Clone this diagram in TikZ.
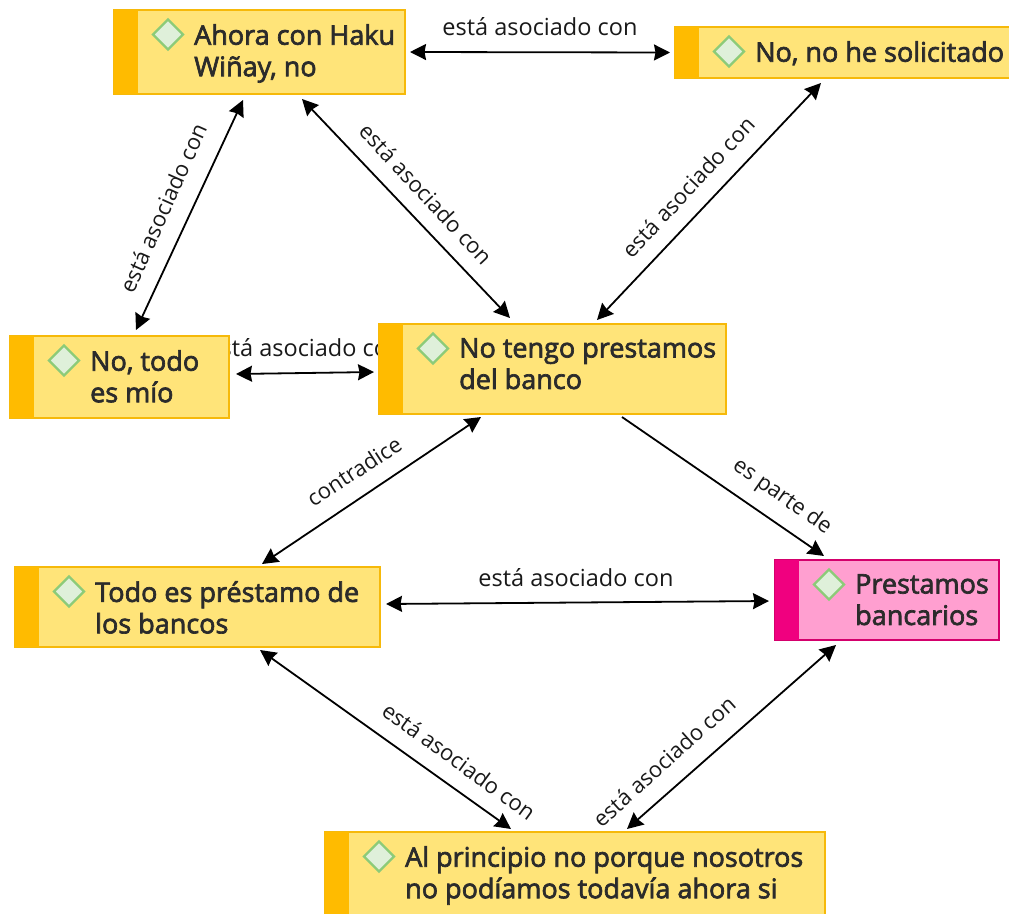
\documentclass[tikz,border=0pt]{standalone}
\usepackage{fontspec}
\setmainfont{Open Sans}
\newfontfamily\boldish[FakeBold=2.5]{Open Sans}
\usetikzlibrary{arrows.meta,shapes.geometric}
\definecolor{yfillc}{HTML}{FFE479}
\definecolor{yedgec}{HTML}{F6B90A}
\definecolor{ybarc}{HTML}{FFBB00}
\definecolor{pfillc}{HTML}{FF9FD0}
\definecolor{pedgec}{HTML}{D4006C}
\definecolor{pbarc}{HTML}{F0007F}
\definecolor{inkc}{HTML}{2B2B2B}
\definecolor{dfillc}{HTML}{DFF0DA}
\definecolor{dedgec}{HTML}{8CCB78}
\tikzset{
 x=1pt,y=-1pt,
 boxy/.style={draw=yedgec,fill=yfillc,line width=1.5pt,anchor=north west,inner sep=0pt,outer sep=0pt},
 boxp/.style={draw=pedgec,fill=pfillc,line width=1.5pt,anchor=north west,inner sep=0pt,outer sep=0pt},
 dia/.style={diamond,draw=dedgec,fill=dfillc,line width=2.4pt,minimum width=31pt,minimum height=31pt,inner sep=0pt},
 txt/.style={anchor=north west,align=left,inner sep=0pt,text=inkc,font=\boldish\fontsize{27}{31.5}\selectfont},
 lab/.style={inner sep=0pt,text=black!90,font=\fontsize{23.5}{27}\selectfont},
 rlab/.style={inner sep=0pt,text=black!90,font=\fontsize{22}{26}\selectfont},
 both/.style={line width=1.8pt,{Stealth[length=16pt,width=16pt,inset=1.5pt]}-{Stealth[length=16pt,width=16pt,inset=1.5pt]}},
 one/.style={line width=1.8pt,-{Stealth[length=16pt,width=16pt,inset=1.5pt]}},
}
\newcommand{\cbox}[8]{% name, style, barcolor, x, y, w, h, text
 \node[#2,minimum width=#6pt,minimum height=#7pt] (#1) at (#4,#5) {};
 \fill[fill=#3] (#4,#5) rectangle ++(24,#7);
 \node[dia] (#1d) at ({#4+54},{#5+24.5}) {};
 \node[txt] (#1t) at ({#4+80},{#5+14}) {#8};
}
\begin{document}
\begin{tikzpicture}
\useasboundingbox (0,0) rectangle (1009,913);
\clip (0,0) rectangle (1009,913);
\node[lab] (l1) at (540,27) {está asociado con};
\node[rlab,rotate=66] (l2) at (163,208) {está asociado con};
\node[rlab,rotate=-47] (l3) at (426,194) {está asociado con};
\node[rlab,rotate=47] (l4) at (688,187) {está asociado con};
\node[lab] (l5) at (305,348) {está asociado con};
\node[rlab,rotate=33] (l6) at (354,471) {contradice};
\node[rlab,rotate=-35] (l7) at (782,497) {es parte de};
\node[lab] (l8) at (576,578) {está asociado con};
\node[rlab,rotate=-36] (l9) at (459,761) {está asociado con};
\node[rlab,rotate=42] (l10) at (664,761) {está asociado con};
\cbox{A}{boxy}{ybarc}{114}{10}{291}{84}{Ahora con Haku\\Wiñay, no}
\cbox{B}{boxy}{ybarc}{675}{27}{340}{51}{No, no he solicitado}
\cbox{C}{boxy}{ybarc}{10}{336}{219}{82}{No, todo\\es mío}
\cbox{D}{boxy}{ybarc}{379}{324}{347}{90}{No tengo prestamos\\del banco}
\cbox{E}{boxy}{ybarc}{15}{567}{365}{80}{Todo es préstamo de\\los bancos}
\cbox{F}{boxp}{pbarc}{775}{560}{224}{80}{Prestamos\\bancarios}
\cbox{G}{boxy}{ybarc}{325}{832}{500}{90}{Al principio no porque nosotros\\no podíamos todavía ahora si}
\draw[both] ([xshift=5pt]A.east) -- ([xshift=-5pt,yshift=0pt]B.west);
\draw[both] ([shift={(129,6)}]A.south west) -- ([shift={(126,-6)}]C.north west);
\draw[both] ([shift={(188,5)}]A.south west) -- ([shift={(131,-6)}]D.north west);
\draw[both] ([shift={(146,5)}]B.south west) -- ([shift={(218,-4)}]D.north west);
\draw[both] ([shift={(7,-3)}]C.east) -- ([shift={(-5,3)}]D.west);
\draw[both] ([shift={(102,3)}]D.south west) -- ([shift={(247,-3)}]E.north west);
\draw[one] ([shift={(243,3)}]D.south west) -- ([shift={(49,-4)}]F.north west);
\draw[both] ([shift={(6,-3)}]E.east) -- ([shift={(-6,1)}]F.west);
\draw[both] ([shift={(245,3)}]E.south west) -- ([shift={(186,-3)}]G.north west);
\draw[both] ([shift={(61,5)}]F.south west) -- ([shift={(302,-3)}]G.north west);
\end{tikzpicture}
\end{document}
